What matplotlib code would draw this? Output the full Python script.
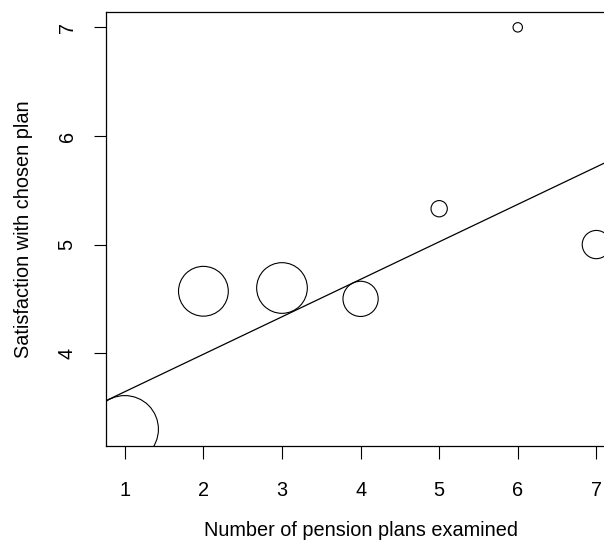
import numpy as np
import matplotlib
matplotlib.use("Agg")
import matplotlib.pyplot as plt

# mean satisfaction per number of plans examined, circle area ~ number of people
plans_examined = [1, 2, 3, 4, 5, 6, 7]
satisfaction = [3.30, 4.57, 4.60, 4.50, 5.33, 7.00, 5.00]
n_people = [51, 28, 29, 14, 3, 1, 9]

# fitted line
fit_intercept = 3.30
fit_slope = 0.345

x_ticks = [1, 2, 3, 4, 5, 6, 7]
y_ticks = [4, 5, 6, 7]

plt.rcParams['font.family'] = ['Liberation Sans', 'DejaVu Sans']
fs = 14.3

W, H = 604, 542
fig = plt.figure(figsize=(W / 100, H / 100), dpi=100)
# axes run off the right edge like in the reference crop
ax = fig.add_axes([105.8 / W, 1 - 445.7 / H, 509.4 / W, 434.0 / H])

# radius in px for the biggest circle, the rest scale with sqrt(n)
r_max = 33.6
radii = r_max * np.sqrt(np.array(n_people) / max(n_people))
sizes = (2 * radii * 0.72) ** 2
ax.scatter(plans_examined, satisfaction, s=sizes, facecolors='none',
           edgecolors='black', linewidths=0.8, zorder=2)

ax.axline((0, fit_intercept), slope=fit_slope, color='black', lw=0.9)

ax.set_xlim(0.758, 7.24)
ax.set_ylim(3.148, 7.144)
ax.set_xticks(x_ticks)
ax.set_yticks(y_ticks)
ax.set_xticklabels([str(v) for v in x_ticks], fontsize=fs)
ax.set_yticklabels([str(v) for v in y_ticks], fontsize=fs, rotation=90,
                   va='center')
ax.tick_params(axis='x', direction='out', length=9, width=0.8, pad=16.5)
ax.tick_params(axis='y', direction='out', length=9, width=0.8, pad=12)
for s in ax.spines.values():
    s.set_linewidth(0.9)

fig.text(360.5 / W, 1 - 530 / H, "Number of pension plans examined",
         fontsize=fs, ha='center', va='center')
fig.text(24 / W, 1 - 228.7 / H, "Satisfaction with chosen plan",
         fontsize=fs, rotation=90, ha='center', va='center')

fig.savefig("out.png", dpi=100)
